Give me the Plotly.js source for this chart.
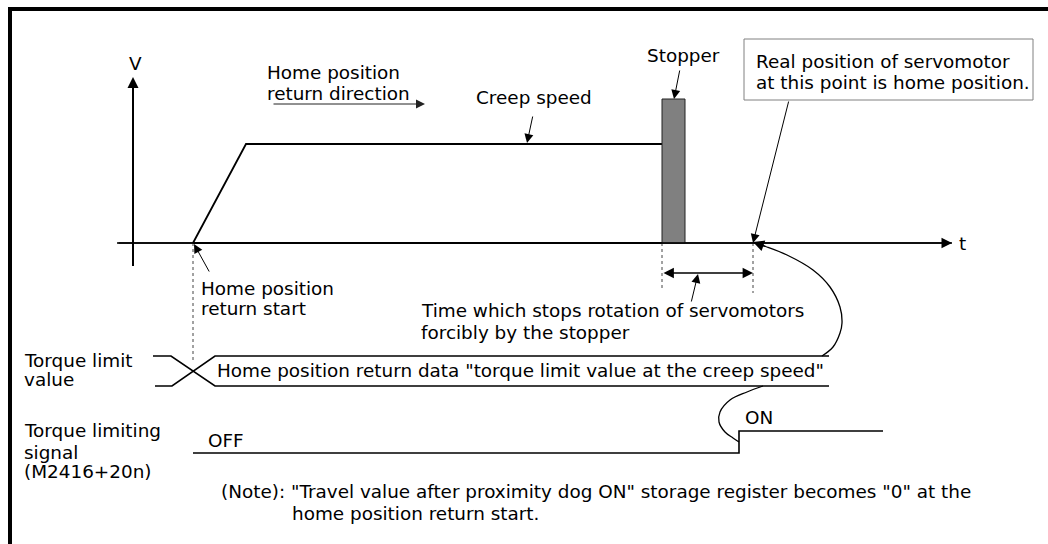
<!DOCTYPE html>
<html><head><meta charset="utf-8">
<script src="https://cdn.plot.ly/plotly-3.0.1.min.js"></script>
<style>html,body{margin:0;padding:0;background:#fff}#chart{width:1048px;height:544px}</style>
</head><body><div id="chart"></div>
<script>
// ---- diagram values (canvas units: x = time position, y = level, down is positive) ----
const frameX = [10, 10, 1048];
const frameY = [544, 9, 9];

const timeAxisX = [117, 952];
const timeAxisY = [243, 243];
const speedAxisX = [133, 133];
const speedAxisY = [266, 77];

// speed profile: start, end of acceleration, reach stopper
const profileT = [193, 246, 662];
const profileV = [243, 144, 144];

// stopper block
const stopperT = [662, 685, 685, 662, 662];
const stopperV = [243, 243, 99, 99, 243];

// torque limit value (old value crosses to new value at return start)
const torqueUpperT = [153, 171, 215, 829];
const torqueUpperV = [356, 356, 386, 386];
const torqueLowerT = [155, 172, 215, 829];
const torqueLowerV = [386, 386, 356, 356];

// torque limiting signal OFF -> ON
const signalT = [193, 739, 739, 883];
const signalV = [453, 453, 431, 431];

// curved leaders
const curveUpT = [822, 833, 840, 842, 840, 830, 813, 787, 767, 756];
const curveUpV = [356, 347, 333, 323, 307, 287, 270, 255, 247, 243.5];
const curveLowT = [763, 747, 730, 720, 719, 725, 733, 739];
const curveLowV = [386, 392, 400, 412, 422, 432, 438, 442];

// dashed guide lines
const guideT = [193, 662, 753];
const guideEnd = [360, 290, 293];

const FONT = {family: '"DejaVu Sans", sans-serif', size: 18.4, color: '#000'};

const traces = [];
function line(x, y, w, color, extra) {
  traces.push(Object.assign({type: 'scatter', mode: 'lines', x: x, y: y,
    line: {color: color || '#000', width: w}, hoverinfo: 'skip', showlegend: false}, extra || {}));
}
line(frameX, frameY, 4, '#000');
line(timeAxisX, timeAxisY, 1.5, '#000');
line(speedAxisX, speedAxisY.map((v, i) => i === 1 ? v + 8 : v), 2, '#000');
line([profileT[0], profileT[2]], [profileV[0], profileV[0]], 2, '#000');
line(profileT, profileV, 1.8, '#000');
line(stopperT, stopperV, 1, '#222', {fill: 'toself', fillcolor: '#808080'});
line(torqueUpperT, torqueUpperV, 1.6, '#000');
line(torqueLowerT, torqueLowerV, 1.6, '#000');
line(signalT, signalV, 1.6, '#000');
line(curveUpT, curveUpV, 1.3, '#000', {line: {color: '#000', width: 1.3, shape: 'spline', smoothing: 1}});
line(curveLowT, curveLowV, 1.3, '#000', {line: {color: '#000', width: 1.3, shape: 'spline', smoothing: 1}});
guideT.forEach((t, i) => line([t, t], [243, guideEnd[i]], 1, '#444', {line: {color: '#444', width: 1, dash: '3px,3px'}}));

const annotations = [];
function label(text, x, y, anchor) {
  annotations.push({text: text, x: x, y: y, xref: 'x', yref: 'y', showarrow: false,
    xanchor: anchor || 'left', yanchor: 'middle', font: FONT, borderpad: 0, borderwidth: 0});
}
function arrow(x, y, ax, ay, w, size, extra) {
  annotations.push(Object.assign({text: '', x: x, y: y, ax: ax, ay: ay, xref: 'x', yref: 'y',
    axref: 'x', ayref: 'y', showarrow: true, arrowhead: 2, arrowwidth: w, arrowsize: size,
    arrowcolor: '#000', standoff: 0, startstandoff: 0}, extra || {}));
}

label('V', 135, 63, 'center');
label('t', 959, 243);
label('Home position', 267, 72);
label('return direction', 267, 93.5);
label('Creep speed', 476, 97.5);
label('Stopper', 647, 55);
label('Real position of servomotor', 756, 61);
label('at this point is home position.', 756, 82);
label('Home position', 201, 288.5);
label('return start', 201, 308);
label('Time which stops rotation of servomotors', 421, 310);
label('forcibly by the stopper', 421, 332);
label('Torque limit', 24, 360.5);
label('value', 24, 379.5);
label('Home position return data "torque limit value at the creep speed"', 217, 370.5);
label('Torque limiting', 24, 430);
label('signal', 24, 452);
label('(M2416+20n)', 24, 471.5);
label('OFF', 208, 440.5);
label('ON', 745, 417.5);
label('(Note): "Travel value after proximity dog ON" storage register becomes "0" at the', 221, 491.5);
label('home position return start.', 292, 513);

arrow(speedAxisX[1], speedAxisY[1], speedAxisX[0], speedAxisY[0], 2, 1.1);
arrow(timeAxisX[1], timeAxisY[1], timeAxisX[0], timeAxisY[0], 1.5, 1.4);
arrow(425, 104, 272, 104, 1, 1.8, {arrowcolor: '#222'});
arrow(527, 143, 533, 115, 1, 1.8);
arrow(674, 99, 680, 69, 1, 1.8);
arrow(753, 243, 789, 100, 1, 1.8);
arrow(194, 244, 210, 273, 1, 1.8);
arrow(698, 274, 691, 303, 1, 1.8);
arrow(753, 273, 662, 273, 1.3, 1.6, {arrowside: 'end+start', startarrowhead: 2, startarrowsize: 1.6});
arrow(753, 242, 767, 247, 1.3, 1.7);

const layout = {
  width: 1048, height: 544,
  margin: {l: 0, r: 0, t: 0, b: 0},
  paper_bgcolor: '#fff', plot_bgcolor: '#fff',
  xaxis: {range: [0, 1048], visible: false, fixedrange: true},
  yaxis: {range: [544, 0], visible: false, fixedrange: true},
  shapes: [{type: 'rect', xref: 'x', yref: 'y', x0: 744, y0: 39, x1: 1033, y1: 100,
    line: {color: '#808080', width: 1}, fillcolor: 'rgba(0,0,0,0)', layer: 'below'}],
  annotations: annotations,
  showlegend: false
};
Plotly.newPlot('chart', traces, layout, {staticPlot: true, displayModeBar: false});
</script></body></html>
